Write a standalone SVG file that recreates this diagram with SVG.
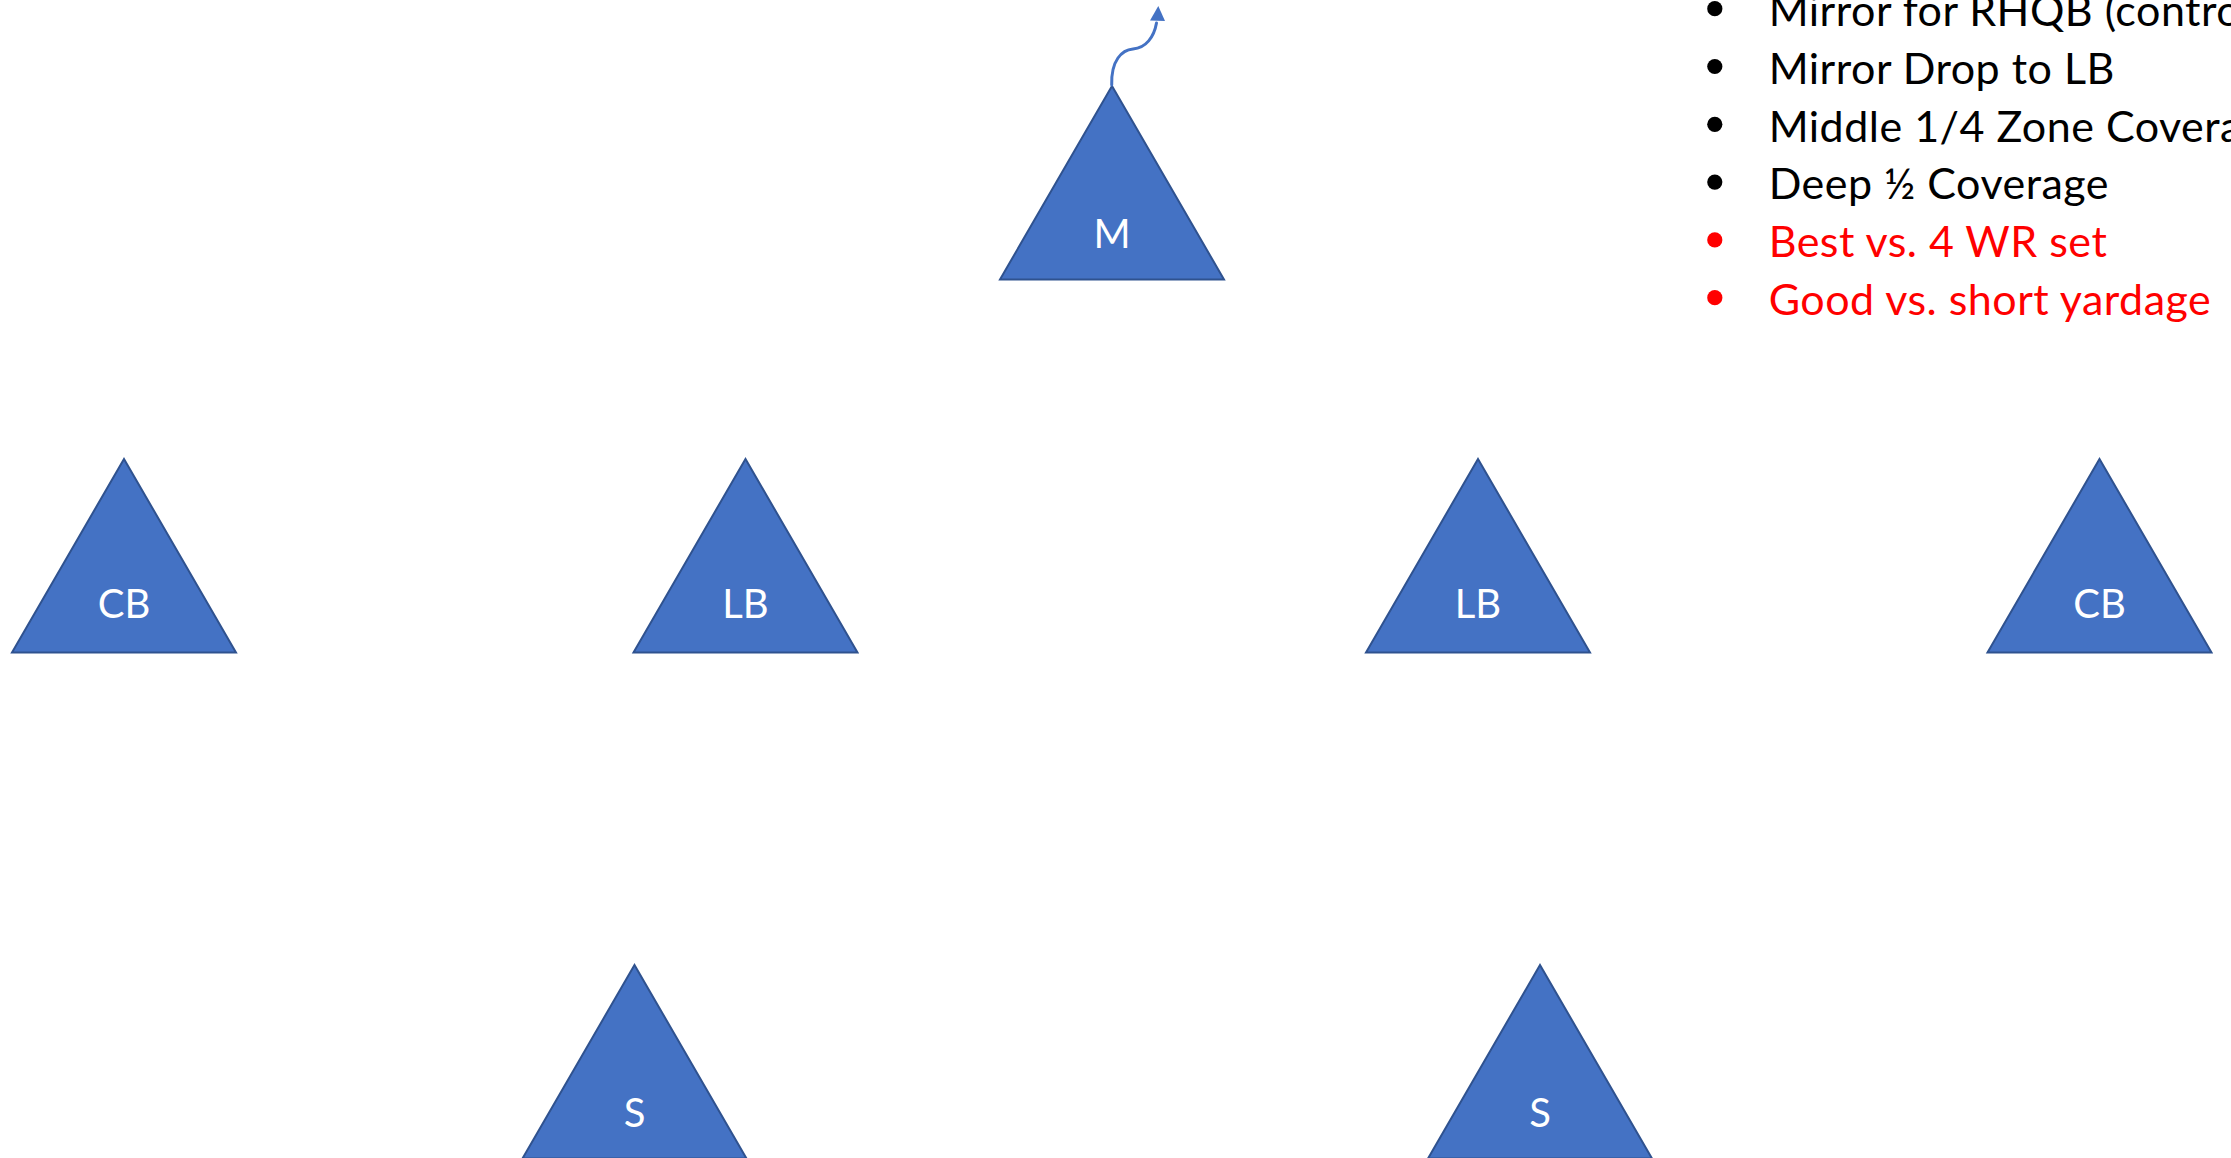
<svg xmlns="http://www.w3.org/2000/svg" width="2231" height="1158" viewBox="0 0 2231 1158">
  <defs>
    <style>
      .player { fill: #4472C4; stroke: #2F528F; stroke-width: 2; stroke-linejoin: miter; }
      .label { font-family: Lato, "Liberation Sans", sans-serif; font-size: 40px; fill: #FFFFFF; text-anchor: middle; }
      .note { font-family: Lato, "Liberation Sans", sans-serif; font-size: 43px; letter-spacing: 0.5px; }
      .note-black { fill: #000000; }
      .note-red { fill: #FF0000; }
      .route { fill: none; stroke: #4472C4; stroke-width: 3; stroke-linecap: round; }
    </style>
    <!-- player triangle, apex at origin, base 224 wide and 193.5 below -->
    <path id="tri" d="M0,0 L112,193.5 L-112,193.5 Z"/>
  </defs>

  <rect width="2231" height="1158" fill="#FFFFFF"/>

  <!-- middle linebacker -->
  <g id="node-m">
    <use href="#tri" class="player" x="1112" y="86"/>
    <text class="label" x="1112" y="247.5">M</text>
  </g>

  <!-- second level -->
  <g id="node-cb-left">
    <use href="#tri" class="player" x="124" y="459"/>
    <text class="label" x="124" y="618">CB</text>
  </g>
  <g id="node-lb-left">
    <use href="#tri" class="player" x="745.5" y="459"/>
    <text class="label" x="745.5" y="618">LB</text>
  </g>
  <g id="node-lb-right">
    <use href="#tri" class="player" x="1478" y="459"/>
    <text class="label" x="1478" y="618">LB</text>
  </g>
  <g id="node-cb-right">
    <use href="#tri" class="player" x="2099.5" y="459"/>
    <text class="label" x="2099.5" y="618">CB</text>
  </g>

  <!-- safeties -->
  <g id="node-s-left">
    <use href="#tri" class="player" x="634.5" y="965"/>
    <text class="label" x="634.5" y="1126.5">S</text>
  </g>
  <g id="node-s-right">
    <use href="#tri" class="player" x="1540" y="965"/>
    <text class="label" x="1540" y="1126.5">S</text>
  </g>

  <!-- M drop route -->
  <g id="connectors">
    <path class="route" d="M1111.7,85 C1111,60 1122,50 1133,49 C1146,48 1154,37 1156.5,23"/>
    <path d="M1158.3,6 L1165,21 L1150,20.5 Z" fill="#4472C4"/>
  </g>

  <!-- coaching notes -->
  <g id="notes" class="note">
    <circle cx="1714.8" cy="8.7" r="7.6" class="note-black"/>
    <text x="1768.7" y="26" class="note-black">Mirror for RHQB (contro</text>
    <circle cx="1714.8" cy="66.5" r="7.6" class="note-black"/>
    <text x="1768.7" y="83.8" class="note-black">Mirror Drop to LB</text>
    <circle cx="1714.8" cy="124.3" r="7.6" class="note-black"/>
    <text x="1768.7" y="141.6" class="note-black">Middle 1/4 Zone Covera</text>
    <circle cx="1714.8" cy="182.1" r="7.6" class="note-black"/>
    <text x="1768.7" y="199.4" class="note-black">Deep ½ Coverage</text>
    <circle cx="1714.8" cy="239.9" r="7.6" class="note-red"/>
    <text x="1768.7" y="257.2" class="note-red">Best vs. 4 WR set</text>
    <circle cx="1714.8" cy="297.7" r="7.6" class="note-red"/>
    <text x="1768.7" y="315" class="note-red">Good vs. short yardage</text>
  </g>
</svg>
